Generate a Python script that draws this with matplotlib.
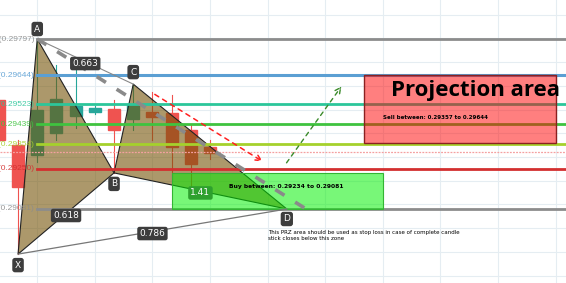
import matplotlib
matplotlib.use("Agg")
import matplotlib.pyplot as plt
from matplotlib.patches import Polygon, Rectangle
from matplotlib import font_manager

# candles (index, open, high, low, close)
idx = [-1, 0, 1, 2, 3, 4, 5, 6, 7, 8, 9, 10]
opens = [0.29540, 0.29350, 0.29308, 0.29401, 0.29473, 0.29490, 0.29502, 0.29460, 0.29490, 0.29485, 0.29414, 0.29342]
highs = [0.29560, 0.29370, 0.29797, 0.29687, 0.29696, 0.29516, 0.29540, 0.29607, 0.29574, 0.29561, 0.29435, 0.29372]
lows = [0.29350, 0.28891, 0.29280, 0.29372, 0.29422, 0.29480, 0.29233, 0.29414, 0.29372, 0.29203, 0.29148, 0.29290]
closes = [0.29372, 0.29174, 0.29498, 0.29544, 0.29515, 0.29506, 0.29414, 0.29519, 0.29469, 0.29342, 0.29271, 0.29317]

# harmonic points
pt_names = ["X", "A", "B", "C", "D"]
pt_x = [0, 1, 5, 6, 14]
pt_y = [0.28891, 0.29797, 0.29233, 0.29607, 0.29081]

# fib levels
fib_levels = ["1", "0.786", "0.618", "0.5", "0.382", "0.236", "0"]
fib_prices = [0.29797, 0.29644, 0.29523, 0.29439, 0.29354, 0.29250, 0.29081]
fib_colors = ["#8c8c8c", "#5b9fd3", "#2cc69a", "#3fc33f", "#a5d12c", "#d32f2f", "#8c8c8c"]
fib_width = [2, 2.2, 2, 2, 2, 2, 2]

buy_zone = (8, 19, 0.29081, 0.29234)
sell_zone = (18, 28, 0.29357, 0.29644)

names = {f.name for f in font_manager.fontManager.ttflist}
label_font = "Liberation Sans Narrow" if "Liberation Sans Narrow" in names else "Liberation Sans"

fig = plt.figure(figsize=(5.66, 2.83), dpi=100)
ax = fig.add_axes([0, 0, 1, 1])
ax.set_xlim(-0.94, 28.54)
ax.set_ylim(0.287693, 0.299613)
for s in ax.spines.values():
    s.set_visible(False)
ax.set_xticks(range(1, 29, 3))
ax.set_yticks([0.288 + 0.001 * k for k in range(12)])
ax.tick_params(length=0, labelbottom=False, labelleft=False)
ax.grid(color="#e5edf2", lw=0.8)
ax.set_axisbelow(True)

# candles
for i, o, h, l, c in zip(idx, opens, highs, lows, closes):
    col = "#26a69a" if c >= o else "#ef5350"
    ax.plot([i, i], [l, h], color=col, lw=0.8, zorder=2)
    ax.add_patch(Rectangle((i - 0.31, min(o, c)), 0.62, abs(c - o), color=col, zorder=2))

# pattern triangles
tan = (118 / 255, 84 / 255, 8 / 255)
for tri in ([0, 1, 2], [2, 3, 4]):
    ax.add_patch(Polygon([(pt_x[k], pt_y[k]) for k in tri], closed=True, facecolor=tan,
                         alpha=0.6, edgecolor="none", zorder=3))
    ax.add_patch(Polygon([(pt_x[k], pt_y[k]) for k in tri], closed=True, fill=False,
                         edgecolor="#222222", lw=0.8, zorder=3.1))

# fib lines and labels
for lev, p, c, w in zip(fib_levels, fib_prices, fib_colors, fib_width):
    ax.plot([1, 28.54], [p, p], color=c, lw=w, zorder=4)
    ax.text(0.85, p, f"{lev}({p:.5f})", color=c, fontsize=6, family=label_font,
            ha="right", va="center", zorder=6, alpha=0.9)
ax.axhline(0.29321, color="#f4a0a0", lw=0.9, ls=(0, (1.5, 1)), zorder=4)

# zones
ax.add_patch(Rectangle((buy_zone[0], buy_zone[2]), buy_zone[1] - buy_zone[0],
                       buy_zone[3] - buy_zone[2], facecolor=(0, 240 / 255, 0), alpha=0.53,
                       edgecolor="none", zorder=5))
ax.add_patch(Rectangle((buy_zone[0], buy_zone[2]), buy_zone[1] - buy_zone[0],
                       buy_zone[3] - buy_zone[2], fill=False, edgecolor="#33b533", lw=0.8, zorder=5))
ax.add_patch(Rectangle((sell_zone[0], sell_zone[2]), sell_zone[1] - sell_zone[0],
                       sell_zone[3] - sell_zone[2], facecolor="#ff0000", alpha=0.5,
                       edgecolor="none", zorder=5))
ax.add_patch(Rectangle((sell_zone[0], sell_zone[2]), sell_zone[1] - sell_zone[0],
                       sell_zone[3] - sell_zone[2], fill=False, edgecolor="#8b2020", lw=1, zorder=5))

# lines
X, A, B, C, D = [(x, y) for x, y in zip(pt_x, pt_y)]
ax.plot([A[0], C[0]], [A[1], C[1]], color="#888888", lw=0.8, zorder=6)
ax.plot([X[0], D[0]], [X[1], D[1]], color="#777777", lw=0.9, zorder=6)
ax.plot([A[0], 15], [A[1], 0.29081], color="#8a8a8a", lw=2.6, ls=(0, (3, 3.5)), zorder=6)
ax.annotate("", xy=(12.86, 0.29275), xytext=(7, 0.29570),
            arrowprops=dict(arrowstyle="->", color="#ff2020", lw=1.1, ls=(0, (3, 3))), zorder=6)
ax.annotate("", xy=(16.93, 0.29607), xytext=(13.9, 0.29266),
            arrowprops=dict(arrowstyle="->", color="#3a8a2a", lw=1.0, ls=(0, (3, 3))), zorder=6)

# point labels
dark = dict(boxstyle="round,pad=0.3", fc="#3d3d3d", ec="none")
offs = {"X": -11, "A": 10, "B": -11, "C": 12, "D": -10}
for n, x, y in zip(pt_names, pt_x, pt_y):
    ax.annotate(n, (x, y), xytext=(0, offs[n]), textcoords="offset pixels", ha="center",
                va="center", color="white", fontsize=6.5, bbox=dark, zorder=7)

def mid(p, q):
    return ((p[0] + q[0]) / 2, (p[1] + q[1]) / 2)

for txt, p, q, fc in [("0.663", A, C, "#3d3d3d"), ("0.618", X, B, "#3d3d3d"),
                      ("0.786", X, D, "#3d3d3d"), ("1.41", B, D, "#2ea02e")]:
    m = mid(p, q)
    ax.annotate(txt, m, xytext=(0, -2), textcoords="offset pixels", ha="center", va="center",
                color="white", fontsize=6.5,
                bbox=dict(boxstyle="round,pad=0.25", fc=fc, ec="none"), zorder=7)

# texts
ax.text(19.43, 0.29557, "Projection area", fontsize=16, fontweight="bold",
        family=["Open Sans", "DejaVu Sans"], ha="left", va="baseline", zorder=8)
ax.text(19.0, 0.29468, "Sell between: 0.29357 to 0.29644", fontsize=4, fontweight="bold",
        ha="left", va="center", zorder=8)
ax.text(10.99, 0.29174, "Buy between: 0.29234 to 0.29081", fontsize=4.3, fontweight="bold",
        ha="left", va="center", zorder=8)
ax.text(13.02, 0.28970, "This PRZ area should be used as stop loss in case of complete candle\n"
        "stick closes below this zone", fontsize=4, ha="left", va="center",
        linespacing=1.1, zorder=8)

fig.savefig("out.png", dpi=100)
